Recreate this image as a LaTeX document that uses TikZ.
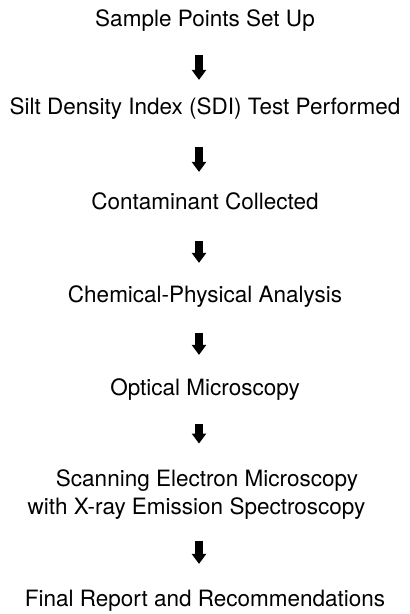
\documentclass[tikz,border=0pt]{standalone}
\usepackage{fontspec}
\setmainfont{TeX Gyre Heros}
\usetikzlibrary{arrows.meta,positioning}

\begin{document}
\begin{tikzpicture}[x=1pt, y=1pt, node distance=93pt, on grid,
                    every node/.style={font=\fontsize{22.5}{28}\selectfont, inner sep=0pt},
                    stage/.style={text height=16pt, text depth=5pt},
                    flow/.style={-{Triangle[width=14pt,length=10pt]}, line width=8pt}]
    \useasboundingbox (0,0) rectangle (410,-614);

    \node[stage] (setup) at (205,-20.6) {Sample Points Set Up};
    \node[stage] (sdi) [below=88pt of setup] {Silt Density Index (SDI) Test Performed};
    \node[stage] (collect) [below=95pt of sdi] {Contaminant Collected};
    \node[stage] (chem) [below=of collect] {Chemical-Physical Analysis};
    \node[stage] (optical) [below=of chem] {Optical Microscopy};
    \node[align=center] (sem) [below=105pt of optical, xshift=-8.5pt]
        {\hspace*{21pt}Scanning Electron Microscopy\\with X-ray Emission Spectroscopy};
    \node[stage] (report) [below=106pt of sem, xshift=8.5pt] {Final Report and Recommendations};
    \coordinate (axis) at (199,0);

    % Define transitions
    \foreach \a/\b/\s/\e in {setup/sdi/24/18, sdi/collect/28/21, collect/chem/27/23,
                             chem/optical/26/24, optical/sem/24/26, sem/report/21/26}
        \draw[flow, shorten <=\s pt, shorten >=\e pt] (\a.south -| axis) -- (\b.north -| axis);
\end{tikzpicture}
\end{document}
